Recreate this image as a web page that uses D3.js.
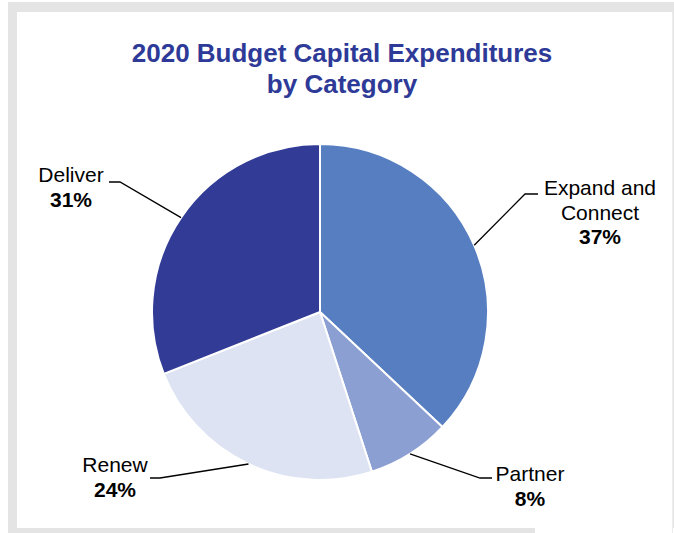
<!DOCTYPE html>
<html>
<head>
<meta charset="utf-8">
<script src="https://cdn.jsdelivr.net/npm/d3@7"></script>
<style>
  html, body { margin: 0; padding: 0; background: #ffffff; }
  svg { display: block; }
  text { font-family: "Liberation Sans", Arial, sans-serif; }
</style>
</head>
<body>
<svg id="chart" width="674" height="533"></svg>
<script>
// Budget shares by category, clockwise from 12 o'clock
const categories = ["Expand and Connect", "Partner", "Renew", "Deliver"];
const shares = [37, 8, 24, 31];
const labelLines = [["Expand and", "Connect"], ["Partner"], ["Renew"], ["Deliver"]];
const sliceColors = ["#567ec0", "#8c9fd3", "#dde3f2", "#323c96"];
const titleLines = ["2020 Budget Capital Expenditures", "by Category"];

const svg = d3.select("#chart");

// Panel frame
svg.append("rect").attr("x", 8).attr("y", 2).attr("width", 666).attr("height", 531).attr("fill", "#e3e4e3");
svg.append("rect").attr("x", 17).attr("y", 12).attr("width", 655).attr("height", 516).attr("fill", "#ffffff");
svg.append("rect").attr("x", 535).attr("y", 528).attr("width", 139).attr("height", 5).attr("fill", "#ffffff");
svg.append("line").attr("x1", 672.5).attr("x2", 672.5).attr("y1", 12).attr("y2", 533)
  .attr("stroke", "#ececec").attr("stroke-width", 1);

// Title
svg.append("text")
  .attr("text-anchor", "middle")
  .attr("fill", "#2e3a97")
  .attr("font-size", 26).attr("font-weight", "bold")
  .selectAll("tspan").data(titleLines).join("tspan")
  .attr("x", 342).attr("y", (d, i) => 62 + i * 31)
  .text(d => d);

const cx = 320, cy = 312, r = 168;
const g = svg.append("g").attr("transform", `translate(${cx},${cy})`);

const data = categories.map((c, i) => ({ name: c, value: shares[i], lines: labelLines[i], color: sliceColors[i] }));
const pie = d3.pie().value(d => d.value).sort(null);
const arcs = pie(data);
const arc = d3.arc().innerRadius(0).outerRadius(r);

g.selectAll("path.slice").data(arcs).join("path")
  .attr("class", "slice")
  .attr("d", arc)
  .attr("fill", d => d.data.color)
  .attr("stroke", "#ffffff")
  .attr("stroke-width", 2)
  .attr("stroke-linejoin", "round");

// Leader lines: from the arc midpoint to an elbow, then a short horizontal run
const labelLayout = [
  { elbow: [205, -118], run: 13, text: [280, -117] },
  { elbow: [160, 166], run: 12, text: [210, 169] },
  { elbow: [-160, 166], run: -10, text: [-205, 160] },
  { elbow: [-200, -130], run: -11, text: [-249, -130] }
];

arcs.forEach((a, i) => {
  const mid = (a.startAngle + a.endAngle) / 2;
  const px = r * Math.sin(mid), py = -r * Math.cos(mid);
  const L = labelLayout[i];
  const ex = L.elbow[0], ey = L.elbow[1];
  g.append("polyline")
    .attr("points", [[px, py], [ex, ey], [ex + L.run, ey]].map(p => p.join(",")).join(" "))
    .attr("fill", "none").attr("stroke", "#000000").attr("stroke-width", 1.3);

  const t = g.append("text")
    .attr("text-anchor", "middle")
    .attr("fill", "#000000")
    .attr("font-size", 21);
  a.data.lines.forEach((ln, j) => {
    t.append("tspan").attr("x", L.text[0]).attr("y", L.text[1] + j * 24.5).text(ln);
  });
  t.append("tspan").attr("x", L.text[0]).attr("y", L.text[1] + a.data.lines.length * 24.5)
    .attr("font-weight", "bold").text(a.data.value + "%");
});
</script>
</body>
</html>
